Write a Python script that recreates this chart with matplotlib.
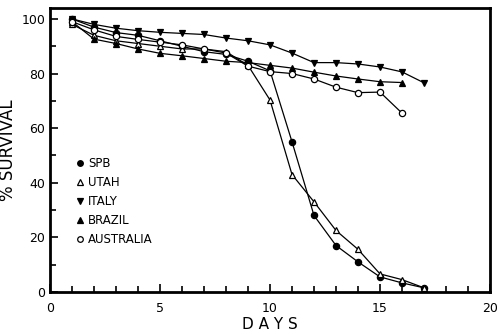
import numpy as np
import matplotlib.pyplot as plt
from matplotlib.ticker import MultipleLocator

# days and % survival per strain
days = np.arange(1, 18)
spb = [100, 97, 95, 94, 92, 90, 88, 87, 84.5, 81, 55, 28, 17, 11, 5.5, 3.3, 1.5]
utah = [98, 94, 92, 91, 90, 89, 89, 88, 83, 70.3, 43, 33, 22.5, 15.6, 6.6, 4.5, 1.5]
italy = [100, 98, 96.6, 95.7, 95.1, 94.7, 94.3, 93, 92, 90.5, 87.5, 84, 84, 83.5, 82.4, 80.6, 76.6]
brazil = [99, 92.6, 91, 89, 87.4, 86.5, 85.5, 84.5, 84, 83, 82, 80.5, 79.1, 78, 77, 76.7]
australia = [99, 96, 93.6, 92.5, 91.5, 90.5, 89, 87.5, 82.7, 80.7, 80, 78, 75, 73, 73.2, 65.5]

fig = plt.figure(figsize=(5, 3.34), dpi=100)
ax = fig.add_axes([0.1, 0.126, 0.88, 0.85])

kw = dict(color='black', lw=0.9, ms=4.5, mec='black', mew=0.9)
ax.plot(days, spb, 'o-', mfc='black', label='SPB', **kw)
ax.plot(days, utah, '^-', mfc='white', label='UTAH', **kw)
ax.plot(days, italy, 'v-', mfc='black', label='ITALY', **kw)
ax.plot(days[:16], brazil, '^-', mfc='black', label='BRAZIL', **kw)
ax.plot(days[:16], australia, 'o-', mfc='white', label='AUSTRALIA', **kw)

ax.set_xlim(0, 20)
ax.set_ylim(0, 104)
ax.xaxis.set_major_locator(MultipleLocator(5))
ax.xaxis.set_minor_locator(MultipleLocator(1))
ax.yaxis.set_major_locator(MultipleLocator(20))
ax.yaxis.set_minor_locator(MultipleLocator(10))
ax.tick_params(which='both', direction='in', width=1.2, labelsize=9)
ax.tick_params(which='major', length=6)
ax.tick_params(which='minor', length=4)
ax.tick_params(axis='x', pad=7)
for s in ax.spines.values():
    s.set_linewidth(2)

ax.set_xlabel('D A Y S', fontsize=11, labelpad=2)
ax.set_ylabel('% SURVIVAL', fontsize=12, labelpad=3)

leg = ax.legend(loc='upper left', bbox_to_anchor=(0.055, 0.495), frameon=False,
                handlelength=0, handletextpad=0.7, labelspacing=0.5,
                fontsize=8.5, markerscale=0.9, borderpad=0)

fig.savefig('out.png', dpi=100)
